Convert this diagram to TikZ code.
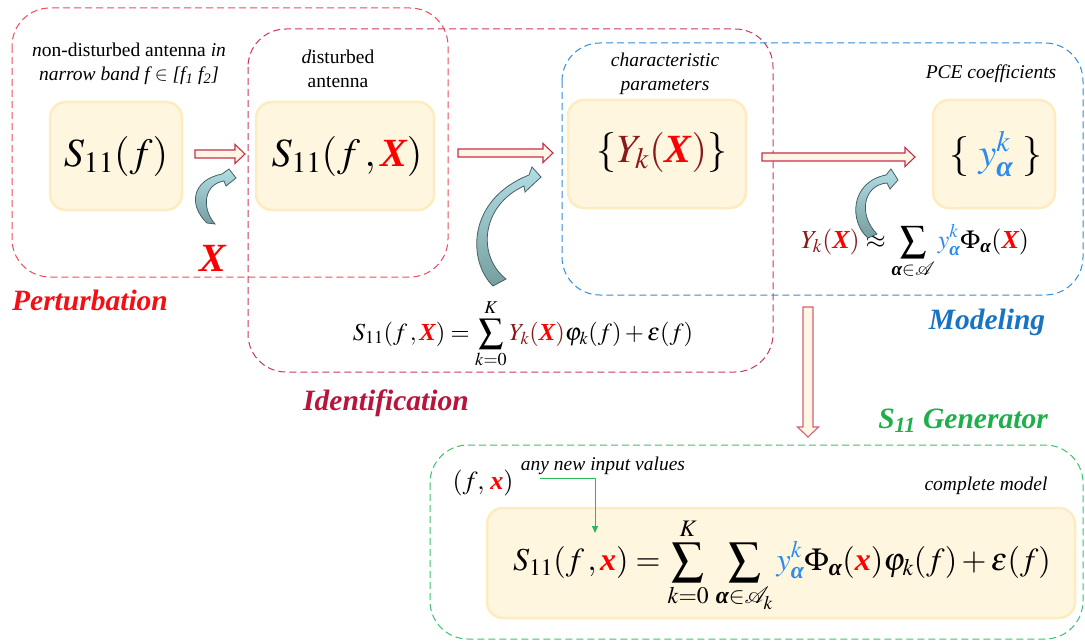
\documentclass[tikz,border=0pt]{standalone}
\usepackage{amsmath}
\usepackage{mathptmx}
\usepackage{fontspec}
\setmainfont{Liberation Serif}
\usetikzlibrary{arrows.meta,calc}

\definecolor{pertc}{RGB}{240,75,95}
\definecolor{identc}{RGB}{205,55,95}
\definecolor{modc}{RGB}{50,140,215}
\definecolor{genc}{RGB}{60,195,110}
\definecolor{pertt}{RGB}{245,15,20}
\definecolor{identt}{RGB}{185,20,60}
\definecolor{modt}{RGB}{25,115,195}
\definecolor{gent}{RGB}{30,175,75}
\definecolor{Ycol}{RGB}{140,25,25}
\definecolor{Xcol}{RGB}{255,0,0}
\definecolor{ycol}{RGB}{40,140,240}
\definecolor{boxfill}{RGB}{255,246,224}
\definecolor{boxedge}{RGB}{253,236,192}
\definecolor{harrow}{RGB}{200,45,75}
\definecolor{harrowv}{RGB}{215,95,115}
\definecolor{hfill}{RGB}{255,246,230}
\definecolor{teald}{RGB}{70,95,100}
\definecolor{tealtop}{RGB}{178,222,228}
\definecolor{tealbot}{RGB}{118,158,160}
\definecolor{garrow}{RGB}{40,185,90}

\newcommand\bX{\textcolor{Xcol}{\text{\bfseries\itshape X}}}
\newcommand\bx{\textcolor{Xcol}{\text{\bfseries\itshape x}}}
\newcommand\ba{\text{\bfseries\itshape α}}
% hollow block arrows between two named coordinates
\newcommand\fatarrowH[3][]{\path[fatarr,#1] let \p1=(#2), \p2=(#3) in
  (\x1,\y1+4pt) -- (\x2-10pt,\y1+4pt) -- (\x2-10pt,\y1+9.5pt) -- (\x2,\y1)
  -- (\x2-10pt,\y1-9.5pt) -- (\x2-10pt,\y1-4pt) -- (\x1,\y1-4pt) -- cycle;}
\newcommand\fatarrowV[3][]{\path[fatarr,#1] let \p1=(#2), \p2=(#3) in
  (\x1-5pt,\y1) -- (\x1-5pt,\y2+10pt) -- (\x1-10.5pt,\y2+10pt) -- (\x1,\y2)
  -- (\x1+10.5pt,\y2+10pt) -- (\x1+5pt,\y2+10pt) -- (\x1+5pt,\y1) -- cycle;}

\tikzset{
  grp/.style={dash pattern=on 7pt off 4pt, line width=1pt, rounded corners=38pt},
  ybox/.style={rounded corners=16pt, fill=boxfill, draw=boxedge, line width=2.5pt, inner sep=0pt},
  lbl/.style={font=\fontsize{19.5}{24}\selectfont, align=center, inner sep=0pt},
  ilbl/.style={font=\fontsize{19.5}{24}\selectfont\itshape, align=center, inner sep=0pt},
  ttl/.style={font=\fontsize{29.5}{31}\selectfont\bfseries\itshape, inner sep=0pt},
  fml/.style={inner sep=0pt, font=\fontsize{26}{30}\selectfont},
  fatarr/.style={draw=harrow, fill=hfill, line width=1.1pt, line join=miter},
  curv/.style={draw=teald, line width=0.8pt, top color=tealtop, bottom color=tealbot},
}

\begin{document}
\begin{tikzpicture}[x=1pt,y=-1pt]
\useasboundingbox (0,0) rectangle (1085,642);

% group frames
\draw[grp, pertc] (12,8) rectangle (448,277);
\draw[grp, identc] (248,29) rectangle (773,372);
\draw[grp, modc] (562,43) rectangle (1083,295);
\draw[grp, genc] (430,445) rectangle (1083,639);

% yellow boxes
\node[ybox, minimum width=132pt, minimum height=108pt] (s1) at (116,156) {};
\node[ybox, minimum width=178pt, minimum height=108pt] (s2) at (345,156) {};
\node[ybox, minimum width=178pt, minimum height=108pt] (yk) at (657,154) {};
\node[ybox, minimum width=122pt, minimum height=108pt] (pce) at (994,154) {};
\node[ybox, minimum width=588pt, minimum height=110pt] (big) at (781,563) {};

% formulas in boxes
\node[inner sep=0pt, font=\fontsize{40}{48}\selectfont] (f1) at (s1) {$S_{11}(f)$};
\node[inner sep=0pt, font=\fontsize{40}{48}\selectfont] (f2) at (347,156) {$S_{11}(f\,,\bX)$};
\node[inner sep=0pt, font=\fontsize{40}{48}\selectfont] (f3) at (662,152) {$\{\textcolor{Ycol}{Y_k(}\bX\textcolor{Ycol}{)}\}$};
\node[inner sep=0pt, font=\fontsize{40}{48}\selectfont] (f4) at (996,154) {$\{\;\textcolor{ycol}{y^k_{\ba}}\;\}$};
\node[inner sep=0pt, font=\fontsize{32}{38}\selectfont] (f5) at (782,565) {$S_{11}(f\,,\bx)=\displaystyle\sum_{k=0}^{K}\,\sum_{\ba\in\mathcal{A}_k}\textcolor{ycol}{y^k_{\ba}}\Phi_{\ba}(\bx)\varphi_k(f)+\varepsilon(f)$};

% labels
\node[lbl] (l1) at (129,64) {\textit{n}on-disturbed antenna \textit{in}\\\textit{narrow band f $\in$ [f\textsubscript{1}\ f\textsubscript{2}]}};
\node[lbl] (l2) at (338,69) {\textit{d}isturbed\\antenna};
\node[ilbl] (l3) at (665,74) {characteristic\\parameters};
\node[ilbl] (l4) at (991,74) {PCE coefficients};
\node[ilbl] (l5) at (603,466) {any new input values};
\node[ilbl] (l6) at (986,486) {complete model};

\node[inner sep=0pt, text=Xcol, font=\fontsize{40}{40}\selectfont\bfseries\itshape] (bigX) at (213,258) {X};

% titles
\node[ttl, text=pertt] (tp) at (90,300) {Perturbation};
\node[ttl, text=identt] (ti) at (386,403) {Identification};
\node[ttl, text=modt] (tm) at (987,322) {Modeling};
\node[ttl, text=gent] (tg) at (963,421) {S\textsubscript{11} Generator};

% other formulas
\node[fml, font=\fontsize{24.5}{30}\selectfont] (eqid) at (523,334) {$S_{11}(f\,,\bX)=\displaystyle\sum_{k=0}^{K}\textcolor{Ycol}{Y_k(}\bX\textcolor{Ycol}{)}\varphi_k(f)+\varepsilon(f)$};
\node[fml] (eqmod) at (915,252) {$\textcolor{Ycol}{Y_k(}\bX\textcolor{Ycol}{)}\approx\displaystyle\sum_{\ba\in\mathcal{A}}\textcolor{ycol}{y^k_{\ba}}\Phi_{\ba}(\bX)$};
\node[fml] (fx) at (483,483) {$(f,\,\bx)$};

% hollow arrows
\coordinate (a1s) at (195,154); \coordinate (a1e) at (245,154);
\coordinate (a2s) at (458,153); \coordinate (a2e) at (553,153);
\coordinate (a3s) at (762,157); \coordinate (a3e) at (915,157);
\coordinate (a4s) at (808,307); \coordinate (a4e) at (808,437);
\fatarrowH{a1s}{a1e}
\fatarrowH{a2s}{a2e}
\fatarrowH{a3s}{a3e}
\fatarrowV[draw=harrowv]{a4s}{a4e}

% curved arrows
\path[curv] (207,223) .. controls (188,205) and (192,180) .. (222,174)
  -- (229,169) -- (236,178) -- (226,186) -- (224,181)
  .. controls (204,184) and (201,208) .. (215,224) -- cycle;
\path[curv] (493,286) .. controls (468,262) and (466,200) .. (529,175)
  -- (532,167) -- (541,177) -- (525,192) -- (524,186)
  .. controls (482,205) and (476,255) .. (506,279) -- cycle;
\path[curv] (868,238) .. controls (849,222) and (850,182) .. (886,175)
  -- (891,169) -- (898,180) -- (890,189) -- (887,183)
  .. controls (863,185) and (858,215) .. (877,234) -- cycle;

% green connector
\coordinate (gs) at (540,478);
\coordinate (ge) at (595,533);
\draw[garrow, line width=0.9pt, -{Triangle[length=7pt,width=6pt]}] (gs) -| (ge);
\end{tikzpicture}
\end{document}
